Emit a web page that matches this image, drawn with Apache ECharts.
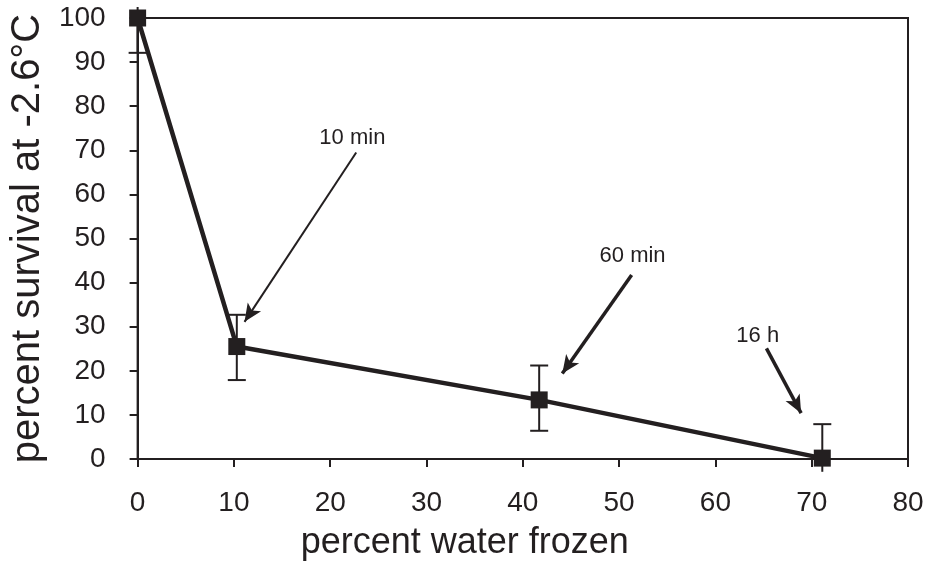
<!DOCTYPE html>
<html>
<head>
<meta charset="utf-8">
<script src="https://cdn.jsdelivr.net/npm/echarts@6/dist/echarts.min.js"></script>
<style>html,body{margin:0;padding:0;background:#fff}#c{width:928px;height:567px}</style>
</head>
<body>
<div id="c"></div>
<script>
// Data
const waterFrozen = [0, 10.3, 41.7, 71.1];
const survival = [100, 25.5, 13.4, 0.2];
const errLow = [92.1, 17.9, 6.4, -2.9];
const errHigh = [102.5, 32.7, 21.2, 7.9];
const xTicks = [0, 10, 20, 30, 40, 50, 60, 70, 80];
const yTicks = [0, 10, 20, 30, 40, 50, 60, 70, 80, 90, 100];
// annotations (data coords): label, label position, arrow start, arrow end
const annLabels = ['10 min', '60 min', '16 h'];
const annLabelPos = [[22.3, 72.7], [51.4, 46.0], [64.4, 27.8]];
const annArrowFrom = [[22.7, 69.5], [51.3, 41.7], [65.3, 25.1]];
const annArrowTo = [[11.1, 31.1], [44.1, 19.4], [68.9, 10.4]];
const annArrowWidth = [2, 3.5, 3.5];

const INK = '#231f20';
const FONT = 'Liberation Sans, Arial, sans-serif';
const chart = echarts.init(document.getElementById('c'));

const errData = waterFrozen.map((x, i) => [x, errLow[i], errHigh[i]]);

chart.setOption({
  animation: false,
  backgroundColor: '#fff',
  grid: { left: 132, right: 20, top: 18, bottom: 108, show: true, borderColor: INK, borderWidth: 2 },
  xAxis: {
    type: 'value', min: 0, max: 80, interval: 10,
    name: 'percent water frozen', nameLocation: 'middle', nameGap: 66,
    nameTextStyle: { fontFamily: FONT, fontSize: 36, color: INK, padding: [0, 116, 0, 0] },
    axisLine: { show: true, lineStyle: { color: INK, width: 2 } },
    axisTick: { show: true, inside: false, length: 8, lineStyle: { color: INK, width: 2 } },
    axisLabel: { margin: 30, fontFamily: FONT, fontSize: 28, color: INK,
      formatter: v => xTicks.includes(v) ? String(v) : '' },
    splitLine: { show: false }
  },
  yAxis: {
    type: 'value', min: 0, max: 100, interval: 10,
    name: 'percent survival at -2.6°C', nameLocation: 'middle', nameGap: 82,
    nameTextStyle: { fontFamily: FONT, fontSize: 40, color: INK },
    axisLine: { show: true, lineStyle: { color: INK, width: 2 } },
    axisTick: { show: true, inside: false, length: 8, lineStyle: { color: INK, width: 2 } },
    axisLabel: { margin: 32, fontFamily: FONT, fontSize: 28, color: INK,
      formatter: v => yTicks.includes(v) ? String(v) : '' },
    splitLine: { show: false }
  },
  series: [
    {
      type: 'custom',
      clip: false,
      z: 3,
      data: errData,
      renderItem: function (params, api) {
        const x = api.value(0);
        const lo = api.coord([x, api.value(1)]);
        const hi = api.coord([x, api.value(2)]);
        const half = 9;
        const style = { stroke: INK, lineWidth: 2 };
        const children = [
          { type: 'line', shape: { x1: lo[0], y1: lo[1], x2: hi[0], y2: hi[1] }, style }
        ];
        if (api.value(1) >= 0) children.push({ type: 'line', shape: { x1: lo[0] - half, y1: lo[1], x2: lo[0] + half, y2: lo[1] }, style });
        if (api.value(2) <= 100) children.push({ type: 'line', shape: { x1: hi[0] - half, y1: hi[1], x2: hi[0] + half, y2: hi[1] }, style });
        return { type: 'group', children };
      }
    },
    {
      type: 'line',
      z: 4,
      data: waterFrozen.map((x, i) => [x, survival[i]]),
      symbol: 'rect', symbolSize: 17,
      showAllSymbol: true,
      clip: false,
      lineStyle: { color: INK, width: 4.5 },
      itemStyle: { color: INK, borderWidth: 0 }
    },
    {
      type: 'line',
      data: [],
      z: 5,
      markLine: {
        silent: true,
        animation: false,
        symbol: ['none', 'arrow'],
        symbolSize: [12, 18],
        label: { show: false },
        data: annArrowFrom.map((f, i) => [
          { coord: f, lineStyle: { color: INK, width: annArrowWidth[i], type: 'solid' } },
          { coord: annArrowTo[i] }
        ])
      },
      markPoint: {
        silent: true,
        symbol: 'circle', symbolSize: 0,
        label: { show: true, position: 'inside', fontFamily: FONT, fontSize: 22, color: INK },
        data: annLabels.map((t, i) => ({ coord: annLabelPos[i], value: t, label: { formatter: t } }))
      }
    }
  ]
});
</script>
</body>
</html>
